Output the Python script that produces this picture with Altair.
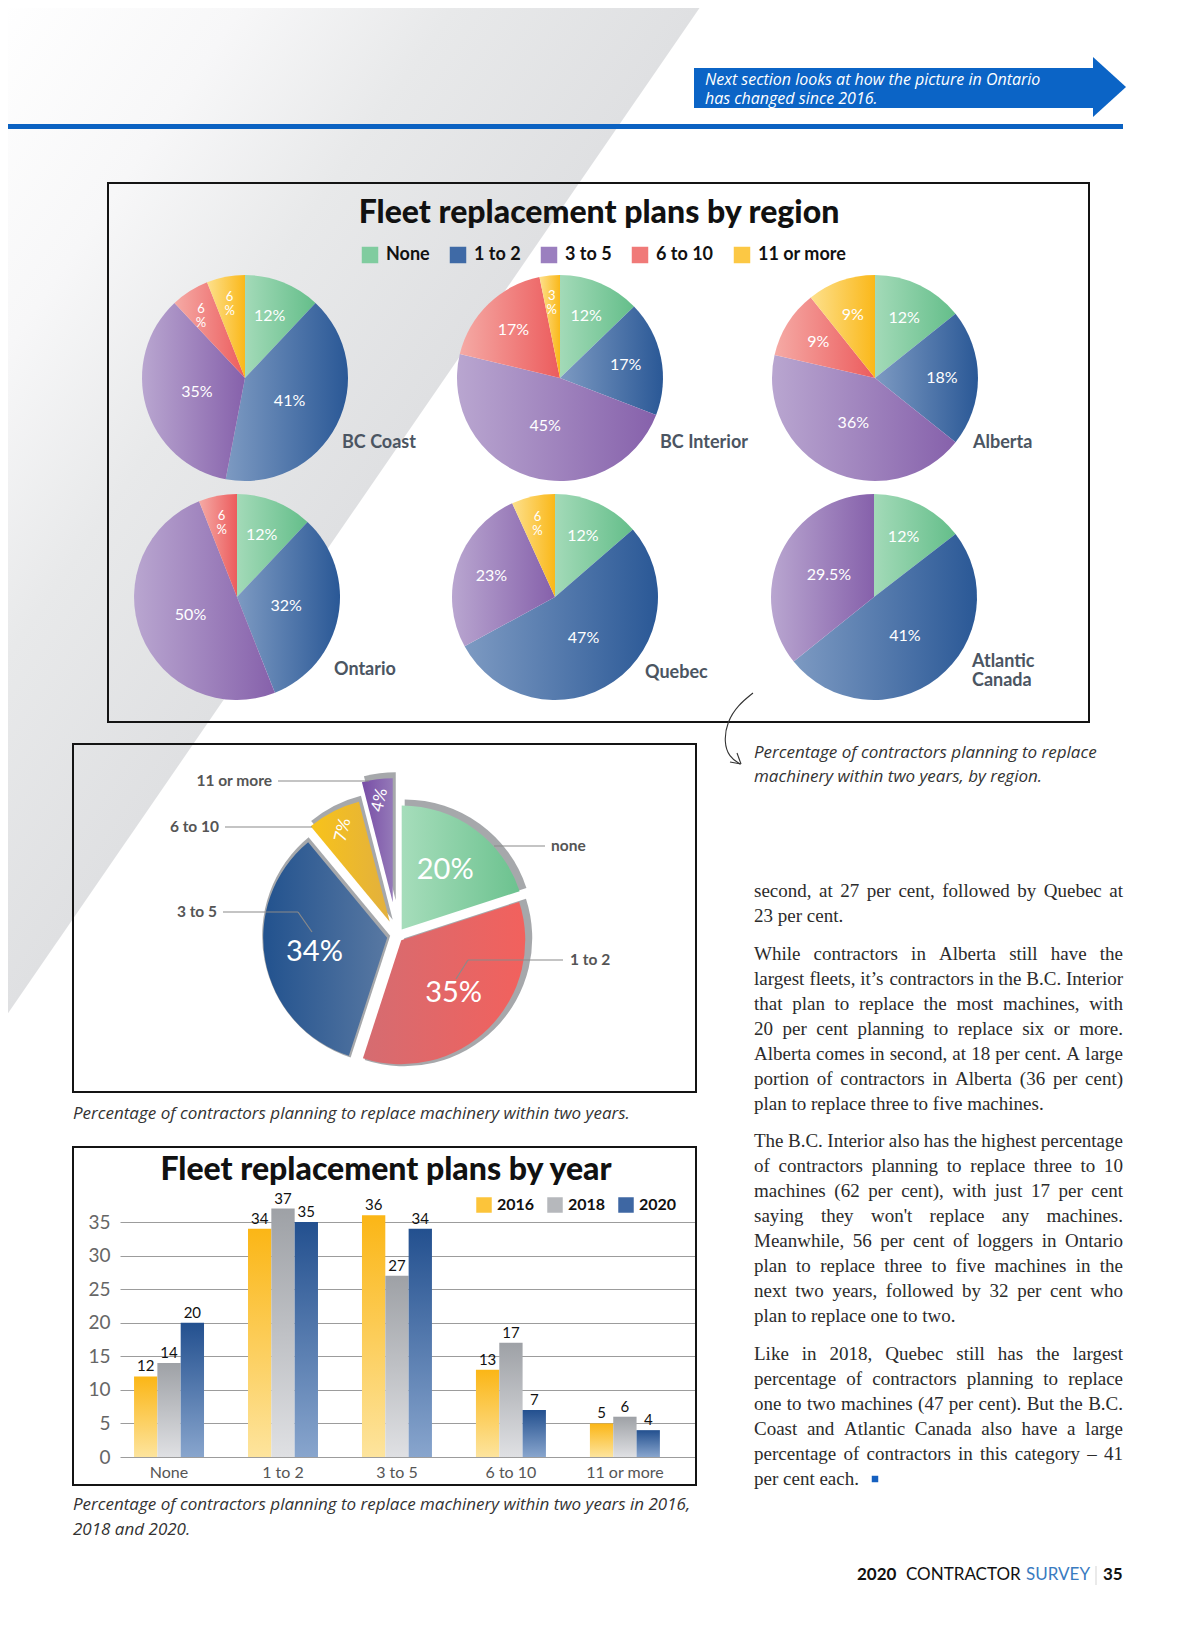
import math
import pandas as pd
import altair as alt

# ------------------------------------------------------------------ data
SIZE_CATS = ["None", "1 to 2", "3 to 5", "6 to 10", "11 or more"]
REGIONS = ["BC Coast", "BC Interior", "Alberta", "Ontario", "Quebec", "Atlantic Canada"]
REGION_NAMES = ["BC Coast", "BC Interior", "Alberta", "Ontario", "Quebec", "Atlantic\nCanada"]
BC_COAST = [12, 41, 35, 6, 6]
BC_INTERIOR = [12, 17, 45, 17, 3]
ALBERTA = [12, 18, 36, 9, 9]
ONTARIO = [12, 32, 50, 6, 0]
QUEBEC = [12, 47, 23, 0, 6]
ATLANTIC = [12, 41, 29.5, 0, 0]

OVERALL_CATS = ["none", "1 to 2", "3 to 5", "6 to 10", "11 or more"]
OVERALL_PCT = [20, 35, 34, 7, 4]

BAR_CATS = ["None", "1 to 2", "3 to 5", "6 to 10", "11 or more"]
YEARS = ["2016", "2018", "2020"]
PLANS_2016 = [12, 34, 36, 13, 5]
PLANS_2018 = [14, 37, 27, 17, 6]
PLANS_2020 = [20, 35, 34, 7, 4]
Y_TICKS = [0, 5, 10, 15, 20, 25, 30, 35]

TITLE_REGION = "Fleet replacement plans by region"
TITLE_YEAR = "Fleet replacement plans by year"
BANNER_TEXT = "Next section looks at how the picture in Ontario\nhas changed since 2016."
CAPTION_REGION = ["Percentage of contractors planning to replace",
                  "machinery within two years, by region."]
CAPTION_OVERALL = "Percentage of contractors planning to replace machinery within two years."
CAPTION_YEAR = ["Percentage of contractors planning to replace machinery within two years in 2016,",
                "2018 and 2020."]
BODY = [
    ["second, at 27 per cent, followed by Quebec at",
     "23 per cent."],
    ["While contractors in Alberta still have the",
     "largest fleets, it\u2019s contractors in the B.C. Interior",
     "that plan to replace the most machines, with",
     "20 per cent planning to replace six or more.",
     "Alberta comes in second, at 18 per cent. A large",
     "portion of contractors in Alberta (36 per cent)",
     "plan to replace three to five machines."],
    ["The B.C. Interior also has the highest percentage",
     "of contractors planning to replace three to 10",
     "machines (62 per cent), with just 17 per cent",
     "saying they won't replace any machines.",
     "Meanwhile, 56 per cent of loggers in Ontario",
     "plan to replace three to five machines in the",
     "next two years, followed by 32 per cent who",
     "plan to replace one to two."],
    ["Like in 2018, Quebec still has the largest",
     "percentage of contractors planning to replace",
     "one to two machines (47 per cent). But the B.C.",
     "Coast and Atlantic Canada also have a large",
     "percentage of contractors in this category \u2013 41",
     "per cent each."],
]

# ------------------------------------------------------------------ style / layout
FONT = "Lato"
ITALIC_FONT = "Open Sans"
SERIF = "Liberation Serif"
W, H = 1184, 1614


def P(v):
    """page pixel -> chart pixel (page has an 8px margin)"""
    return v - 8


# page position of each regional pie centre, and offset of its name label
PIE_LAYOUT = {
    "BC Coast": (245, 378, 97, 65), "BC Interior": (560, 378, 100, 65), "Alberta": (875, 378, 98, 65),
    "Ontario": (237, 597, 97, 73), "Quebec": (555, 597, 90, 76), "Atlantic Canada": (874, 597, 98, 65),
}
PIE_R = 103

REGION_GRAD = {
    "None": ("#a3dab8", "#64be8a"),
    "1 to 2": ("#7d9ac2", "#2a5896"),
    "3 to 5": ("#b9a6d0", "#8661ab"),
    "6 to 10": ("#f5aaa5", "#ec5c5d"),
    "11 or more": ("#fde08c", "#fab81a"),
}
REGION_SOLID = ["#80cc9f", "#3f6aa6", "#9b7fbf", "#f07a78", "#fcc844"]

OVERALL_GRAD = {
    "none": ("#a6ddbb", "#6cc28f"),
    "1 to 2": ("#d56c71", "#f2615d"),
    "3 to 5": ("#22528e", "#5878a2"),
    "6 to 10": ("#f8c31a", "#e2b03e"),
    "11 or more": ("#784da6", "#9479b8"),
}
EXPLODE = {"none": 8, "1 to 2": 6, "3 to 5": 10, "6 to 10": 16, "11 or more": 34}

BAR_GRAD = {
    "2016": ("#fbb616", "#fde49d"),
    "2018": ("#9ea1a6", "#dfe0e3"),
    "2020": ("#23508f", "#88a5cd"),
}
BAR_SOLID = ["#fcc43a", "#b6b8bc", "#3e67a3"]

ONE = pd.DataFrame({"k": [0]})


def hgrad(c0, c1):
    return alt.LinearGradient(gradient="linear",
                              stops=[alt.GradientStop(color=c0, offset=0),
                                     alt.GradientStop(color=c1, offset=1)],
                              x1=0, x2=1, y1=0, y2=0)


def vgrad(c0, c1):
    return alt.LinearGradient(gradient="linear",
                              stops=[alt.GradientStop(color=c0, offset=0),
                                     alt.GradientStop(color=c1, offset=1)],
                              x1=0, x2=0, y1=0, y2=1)


def label(text, x, y, size, color="#222222", weight="normal", style="normal",
          align="left", font=FONT, angle=0, line_height=None):
    kw = dict(text=text, font=font, fontSize=size, fontWeight=weight, fontStyle=style,
              color=color, align=align, baseline="middle", angle=angle)
    if line_height:
        kw.update(lineBreak="\n", lineHeight=line_height)
    return alt.Chart(ONE).mark_text(**kw).encode(x=alt.value(P(x)), y=alt.value(P(y)))


def rule(x1, y1, x2, y2, color="#8a8a8a", width=1.2):
    return alt.Chart(ONE).mark_rule(color=color, strokeWidth=width).encode(
        x=alt.value(P(x1)), y=alt.value(P(y1)), x2=alt.value(P(x2)), y2=alt.value(P(y2)))


def rect(x1, y1, x2, y2, color):
    return alt.Chart(ONE).mark_rect(color=color).encode(
        x=alt.value(P(x1)), y=alt.value(P(y1)), x2=alt.value(P(x2)), y2=alt.value(P(y2)))


def frame(x1, y1, x2, y2, color="#141414", width=2):
    return alt.Chart(ONE).mark_rect(fillOpacity=0, stroke=color, strokeWidth=width).encode(
        x=alt.value(P(x1)), y=alt.value(P(y1)), x2=alt.value(P(x2)), y2=alt.value(P(y2)))


layers = []

# ------------------------------------------------------------------ page background
tri = pd.DataFrame({"x": [P(0), P(705)], "top": [P(0), P(0)], "bot": [P(1025), P(0)]})
tri_grad = alt.LinearGradient(
    gradient="linear",
    stops=[alt.GradientStop(color="#ffffff", offset=0),
           alt.GradientStop(color="#f7f7f8", offset=0.35),
           alt.GradientStop(color="#e8e9ea", offset=0.65),
           alt.GradientStop(color="#dfe0e2", offset=1)],
    x1=0, y1=0, x2=0.5, y2=0.5)
layers.append(alt.Chart(tri).mark_area(color=tri_grad).encode(
    x=alt.X("x:Q", scale=None), y=alt.Y("top:Q", scale=None), y2=alt.Y2("bot")))

# banner
BLUE = "#0b64c6"
layers.append(rect(694, 68, 1094, 108, BLUE))
arrow = pd.DataFrame({"x": [P(1093), P(1126)], "top": [P(57), P(87)], "bot": [P(117), P(87)]})
layers.append(alt.Chart(arrow).mark_area(color=BLUE).encode(
    x=alt.X("x:Q", scale=None), y=alt.Y("top:Q", scale=None), y2=alt.Y2("bot")))
layers.append(rect(0, 124, 1123, 129, "#0b62c2"))
layers.append(label(BANNER_TEXT, 705, 79.5, 16, color="white", style="italic", font=ITALIC_FONT,
                    line_height=19.5))

# ------------------------------------------------------------------ region pies
layers.append(frame(108, 183, 1089, 722))
layers.append(label(TITLE_REGION, 599, 213, 32, color="#111111", weight=900, align="center"))

region_values = [BC_COAST, BC_INTERIOR, ALBERTA, ONTARIO, QUEBEC, ATLANTIC]
rows = []
for reg, name, vals in zip(REGIONS, REGION_NAMES, region_values):
    for k, (cat, v) in enumerate(zip(SIZE_CATS, vals)):
        rows.append({"region": reg, "name": name, "cat": cat, "order": k, "value": v})
region_df = pd.DataFrame(rows)

TS = alt.Scale(domain=[0, 1], range=[0, 2 * math.pi], nice=False, zero=False)


def region_pie(reg):
    cx, cy, name_dx, name_dy = PIE_LAYOUT[reg]
    base = (alt.Chart(region_df)
            .transform_filter(alt.datum.region == reg)
            .transform_joinaggregate(total="sum(value)")
            .transform_window(cum="sum(value)", sort=[alt.SortField("order", order="ascending")],
                              frame=[None, 0])
            .transform_calculate(t0="(datum.cum - datum.value) / datum.total",
                                 t1="datum.cum / datum.total",
                                 tm="(datum.cum - datum.value / 2) / datum.total",
                                 lbl="datum.value + '%'",
                                 lbl2="datum.value + '\\n%'"))
    X = alt.value(P(cx))
    Y = alt.value(P(cy))
    out = []
    for cat in SIZE_CATS:
        c0, c1 = REGION_GRAD[cat]
        out.append(base.transform_filter(alt.datum.cat == cat)
                   .mark_arc(outerRadius=PIE_R, color=hgrad(c0, c1))
                   .encode(x=X, y=Y, theta=alt.Theta("t0:Q", scale=TS, stack=False), theta2="t1"))
    txt = dict(font=FONT, color="white", baseline="middle", align="center")
    T = alt.Theta("tm:Q", scale=TS, stack=False)
    out.append(base.transform_filter("datum.value >= 25")
               .mark_text(radius=50, fontSize=16, **txt).encode(x=X, y=Y, theta=T, text="lbl:N"))
    out.append(base.transform_filter("datum.value >= 8 && datum.value < 25")
               .mark_text(radius=67, fontSize=16, **txt).encode(x=X, y=Y, theta=T, text="lbl:N"))
    out.append(base.transform_filter("datum.value > 0 && datum.value < 8")
               .mark_text(radius=82, fontSize=13, lineBreak="\n", lineHeight=14, **txt)
               .encode(x=X, y=Y, theta=T, text="lbl2:N"))
    out.append(base.transform_filter("datum.order == 0")
               .mark_text(align="left", baseline="middle", dx=name_dx, dy=name_dy, font=FONT,
                          fontSize=18, fontWeight="bold", color="#4b5562", lineBreak="\n", lineHeight=19)
               .encode(x=X, y=Y, text="name:N"))
    return alt.layer(*out)


for reg in REGIONS:
    layers.append(region_pie(reg))

layers.append(alt.Chart(pd.DataFrame({"cat": SIZE_CATS})).mark_square().encode(
    x=alt.value(-400), y=alt.value(-400),
    color=alt.Color("cat:N", scale=alt.Scale(domain=SIZE_CATS, range=REGION_SOLID),
                    legend=alt.Legend(title=None, orient="none", legendX=P(361), legendY=P(246),
                                      direction="horizontal", symbolType="square", symbolSize=272,
                                      symbolStrokeWidth=0, symbolOpacity=1, labelFont=FONT,
                                      labelFontSize=18, labelFontWeight="bold", labelColor="#111111",
                                      labelOffset=7, columnPadding=19, padding=0))))

# ------------------------------------------------------------------ overall exploded pie
layers.append(frame(73, 744, 696, 1092))
OC_X, OC_Y, OR = 397, 936, 124
ov_df = pd.DataFrame({"cat": OVERALL_CATS, "value": OVERALL_PCT, "order": list(range(len(OVERALL_CATS)))})
expl_expr = " : ".join(f"datum.cat == '{c}' ? {d}" for c, d in EXPLODE.items()) + " : 0"
ob = (alt.Chart(ov_df)
      .transform_joinaggregate(total="sum(value)")
      .transform_window(cum="sum(value)", sort=[alt.SortField("order", order="ascending")], frame=[None, 0])
      .transform_calculate(t0="(datum.cum - datum.value) / datum.total",
                           t1="datum.cum / datum.total",
                           tm="(datum.cum - datum.value / 2) / datum.total",
                           e=expl_expr)
      .transform_calculate(ex="datum.e * sin(2 * PI * datum.tm)",
                           ey="-datum.e * cos(2 * PI * datum.tm)",
                           lbl="datum.value + '%'"))
OX = alt.X("ex:Q", scale=alt.Scale(domain=[-100, 100], range=[P(OC_X) - 100, P(OC_X) + 100],
                                   nice=False, zero=False), axis=None)
OY = alt.Y("ey:Q", scale=alt.Scale(domain=[-100, 100], range=[P(OC_Y) - 100, P(OC_Y) + 100],
                                   nice=False, zero=False), axis=None)
OT0 = alt.Theta("t0:Q", scale=TS, stack=False)
ov_layers = [ob.mark_arc(outerRadius=OR + 4, color="#a6a8ab", xOffset=3, yOffset=-2)
             .encode(x=OX, y=OY, theta=OT0, theta2="t1")]
for cat in OVERALL_CATS:
    c0, c1 = OVERALL_GRAD[cat]
    ov_layers.append(ob.transform_filter(alt.datum.cat == cat)
                     .mark_arc(outerRadius=OR, color=hgrad(c0, c1))
                     .encode(x=OX, y=OY, theta=OT0, theta2="t1"))
OTM = alt.Theta("tm:Q", scale=TS, stack=False)
ov_layers.append(ob.transform_filter("datum.value >= 15")
                 .mark_text(radius=74, fontSize=29, font=FONT, color="white", baseline="middle")
                 .encode(x=OX, y=OY, theta=OTM, text="lbl:N"))
ov_layers.append(ob.transform_filter("datum.value < 15")
                 .mark_text(radius=103, fontSize=17, font=FONT, color="white", baseline="middle", angle=283)
                 .encode(x=OX, y=OY, theta=OTM, text="lbl:N"))
layers.append(alt.layer(*ov_layers))

# leader lines and category labels
for seg in [(278, 781, 369, 781), (225, 827, 312, 827), (223, 912, 298, 912), (298, 912, 312, 932),
            (494, 846, 545, 846), (468, 960, 563, 960), (468, 960, 456, 979)]:
    layers.append(rule(*seg))
for text, x, y, al in [("11 or more", 272, 781, "right"), ("6 to 10", 219, 827, "right"),
                       ("3 to 5", 217, 912, "right"), ("none", 551, 846, "left"),
                       ("1 to 2", 570, 960, "left")]:
    layers.append(label(text, x, y, 15.5, color="#555555", weight="bold", align=al))

# ------------------------------------------------------------------ bar chart
layers.append(frame(73, 1147, 696, 1485))
layers.append(label(TITLE_YEAR, 386, 1170, 32, color="#111111", weight=900, align="center"))

bar_df = pd.DataFrame([{"cat": c, "year": y, "value": v}
                       for y, vals in zip(YEARS, [PLANS_2016, PLANS_2018, PLANS_2020])
                       for c, v in zip(BAR_CATS, vals)])
BX = alt.X("cat:N", scale=alt.Scale(domain=BAR_CATS, range=[P(120), P(696)], paddingInner=0.386,
                                    paddingOuter=0.22, align=0.28),
           axis=alt.Axis(orient="bottom", offset=-(H - P(1457)), title=None, labelAngle=0,
                         domain=False, ticks=False, grid=False, labelFont=FONT, labelFontSize=16,
                         labelColor="#555555", labelPadding=7))
BXO = alt.XOffset("year:N", scale=alt.Scale(domain=YEARS, paddingInner=0, paddingOuter=0))
BY = alt.Y("value:Q", scale=alt.Scale(domain=[0, 35], range=[P(1457), P(1222)], nice=False, zero=False),
           axis=alt.Axis(orient="left", offset=-P(116), values=Y_TICKS, title=None, domain=False,
                         ticks=False, grid=True, gridColor="#9c9c9c", gridWidth=1, labelFont=FONT,
                         labelFontSize=19, labelColor="#666666", labelPadding=6))
bbase = alt.Chart(bar_df)
bar_layers = []
for y in YEARS:
    c0, c1 = BAR_GRAD[y]
    bar_layers.append(bbase.transform_filter(alt.datum.year == y)
                      .mark_bar(color=vgrad(c0, c1))
                      .encode(x=BX, xOffset=BXO, y=BY))
bar_layers.append(bbase.mark_text(font=FONT, fontSize=15, color="#111111", baseline="bottom", dy=-2)
                  .encode(x=BX, xOffset=BXO, y=BY, text="value:Q"))
layers.append(alt.layer(*bar_layers))

layers.append(alt.Chart(pd.DataFrame({"year": YEARS})).mark_square().encode(
    x=alt.value(-400), y=alt.value(-400),
    color=alt.Color("year:N", scale=alt.Scale(domain=YEARS, range=BAR_SOLID),
                    legend=alt.Legend(title=None, orient="none", legendX=P(476), legendY=P(1197),
                                      direction="horizontal", symbolType="square", symbolSize=240,
                                      symbolStrokeWidth=0, symbolOpacity=1, labelFont=FONT,
                                      labelFontSize=16, labelFontWeight="bold", labelColor="#111111",
                                      labelOffset=5, columnPadding=12, padding=0))))

# ------------------------------------------------------------------ captions
CAP = "#333333"
layers.append(label(CAPTION_REGION[0], 754, 753, 17, color=CAP, style="italic", font=ITALIC_FONT))
layers.append(label(CAPTION_REGION[1], 754, 777, 17, color=CAP, style="italic", font=ITALIC_FONT))
layers.append(label(CAPTION_OVERALL, 73, 1114, 17, color=CAP, style="italic", font=ITALIC_FONT))
layers.append(label(CAPTION_YEAR[0], 73, 1505, 17, color=CAP, style="italic", font=ITALIC_FONT))
layers.append(label(CAPTION_YEAR[1], 73, 1530, 17, color=CAP, style="italic", font=ITALIC_FONT))

curve = pd.DataFrame({"x": [P(v) for v in [753, 738, 727, 724, 729, 740]],
                      "y": [P(v) for v in [693, 705, 722, 742, 757, 764]],
                      "o": list(range(6))})
layers.append(alt.Chart(curve).mark_line(color="#333333", strokeWidth=1.1, interpolate="basis").encode(
    x=alt.X("x:Q", scale=None), y=alt.Y("y:Q", scale=None), order="o:Q"))
layers.append(rule(741, 764, 737, 753, color="#333333", width=1.1))
layers.append(rule(741, 764, 730, 762, color="#333333", width=1.1))

# ------------------------------------------------------------------ body text (justified)
TW = {' ': 250, '!': 333, '"': 408, '%': 833, '&': 778, "'": 180, '(': 333, ')': 333, ',': 250,
      '-': 333, '.': 250, '/': 278, ':': 278, ';': 278, '?': 444, '\u2019': 333, '\u2013': 500}
for d in "0123456789":
    TW[d] = 500
TW.update(dict(A=722, B=667, C=667, D=722, E=611, F=556, G=722, H=722, I=333, J=389, K=722, L=611,
               M=889, N=722, O=722, P=556, Q=722, R=667, S=556, T=611, U=722, V=722, W=944, X=722,
               Y=722, Z=611))
TW.update(dict(a=444, b=500, c=444, d=500, e=444, f=333, g=500, h=500, i=278, j=278, k=500, l=278,
               m=778, n=500, o=500, p=500, q=500, r=333, s=389, t=278, u=500, v=500, w=722, x=500,
               y=500, z=444))
BODY_FS = 19
BODY_W = 1123 - 754


def tw(s):
    return sum(TW.get(ch, 500) for ch in s) * BODY_FS / 1000.0


words = []
g = 0
for p, para in enumerate(BODY):
    for li, line in enumerate(para):
        ws = line.split(" ")
        widths = [tw(w) for w in ws]
        last = li == len(para) - 1
        if last or len(ws) == 1:
            gap = tw(" ")
        else:
            gap = (BODY_W - sum(widths)) / (len(ws) - 1)
        xx = 0.0
        for j, (wd_text, wd) in enumerate(zip(ws, widths)):
            right = (not last) and j == len(ws) - 1 and len(ws) > 1
            words.append({"word": wd_text, "pos": 1.0 if right else xx / BODY_W,
                          "slot": g + 0.5 * p, "right": int(right)})
            xx += wd + gap
        g += 1
body_df = pd.DataFrame(words)
WX = alt.X("pos:Q", scale=alt.Scale(domain=[0, 1], range=[P(754), P(1123)], nice=False, zero=False), axis=None)
WY = alt.Y("slot:Q", scale=alt.Scale(domain=[0, 1], range=[P(891), P(916)], nice=False, zero=False), axis=None)
bt = dict(baseline="middle", font=SERIF, fontSize=BODY_FS, color="#2b2b2b")
layers.append(alt.layer(
    alt.Chart(body_df).transform_filter("datum.right == 0").mark_text(align="left", **bt)
    .encode(x=WX, y=WY, text="word:N"),
    alt.Chart(body_df).transform_filter("datum.right == 1").mark_text(align="right", **bt)
    .encode(x=WX, y=WY, text="word:N"),
))
layers.append(alt.Chart(ONE).mark_square(color="#1560c0", size=42, opacity=1).encode(
    x=alt.value(P(875)), y=alt.value(P(1479))))

# ------------------------------------------------------------------ footer
layers.append(label("2020", 857, 1575, 17, color="#111111", weight="bold"))
layers.append(label("CONTRACTOR", 906, 1575, 17, color="#111111"))
layers.append(label("SURVEY", 1026, 1575, 17, color="#3a7bbf"))
layers.append(rule(1096, 1566, 1096, 1585, color="#d5d5d5", width=1))
layers.append(label("35", 1103, 1575, 17, color="#111111", weight="bold"))

chart = (alt.layer(*layers)
         .resolve_scale(x="independent", y="independent", color="independent", theta="independent")
         .properties(width=W, height=H, autosize=alt.AutoSizeParams(type="none"), padding=0)
         .configure_view(strokeWidth=0))

chart.save("out.html", embed_options={"renderer": "svg", "actions": False})
